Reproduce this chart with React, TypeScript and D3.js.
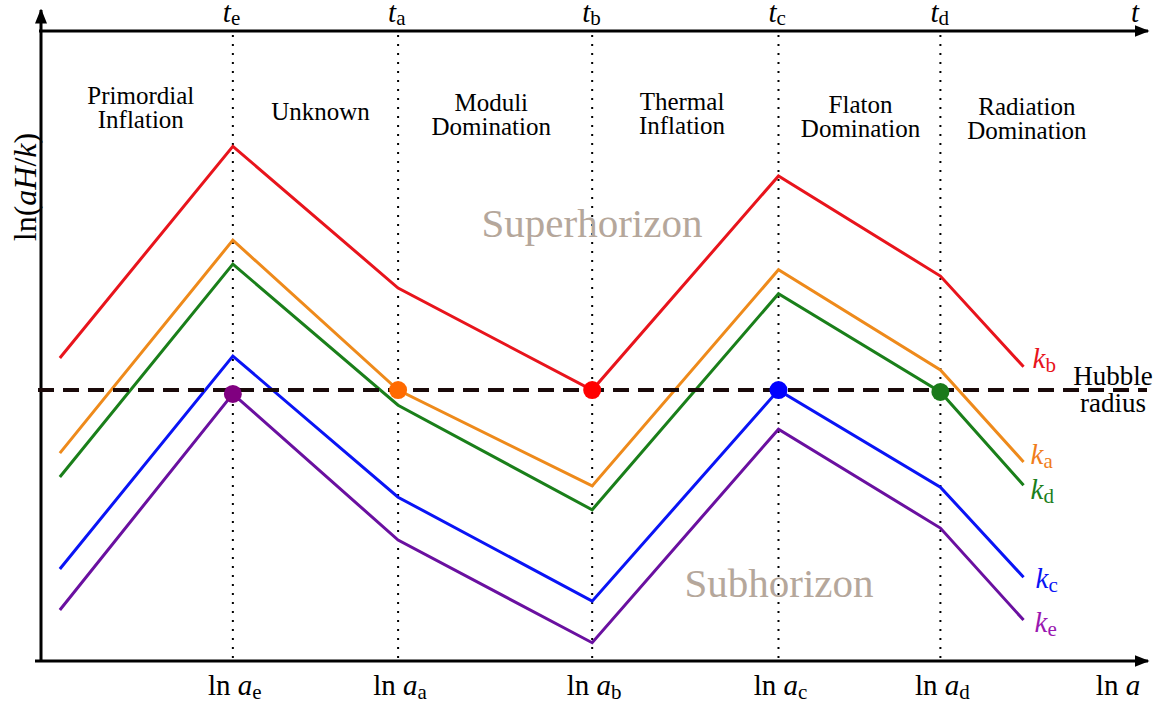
import React from 'react';
import * as d3 from 'd3';

// ln a positions: curve start, a_e, a_a, a_b, a_c, a_d, curve end
const lnA = [1.7, 17.3, 32.2, 49.7, 66.5, 81.1, 88.6];
const epochs = ['e', 'a', 'b', 'c', 'd'];
const epochLnA = [17.3, 32.2, 49.7, 66.5, 81.1];

// ln(aH/k) for each comoving scale
const kB = [48.1, 81.7, 59.2, 43.0, 77.0, 61.1, 46.7];
const kA = [33.0, 66.8, 43.0, 27.8, 62.1, 46.2, 31.6];
const kD = [29.2, 63.0, 40.6, 24.0, 58.3, 42.7, 27.9];
const kC = [14.6, 48.4, 26.0, 9.5, 43.0, 27.6, 13.3];
const kE = [8.1, 42.4, 19.2, 2.9, 36.8, 21.1, 6.5];
const hubble = 43.0;

const eras = [
  ['Primordial', 'Inflation'],
  ['Unknown'],
  ['Moduli', 'Domination'],
  ['Thermal', 'Inflation'],
  ['Flaton', 'Domination'],
  ['Radiation', 'Domination'],
];
const eraLnA = [9.0, 25.2, 40.6, 57.8, 73.9, 88.9];

const series = [
  { name: 'b', values: kB, color: '#e8141c', label: '#e8141c', dot: '#ff0000', cross: 3 },
  { name: 'a', values: kA, color: '#ee8a1b', label: '#f07d1b', dot: '#ff6a00', cross: 2 },
  { name: 'd', values: kD, color: '#1a7f1a', label: '#1a7f1a', dot: '#1a7a1a', cross: 5 },
  { name: 'c', values: kC, color: '#0a14f5', label: '#0a14f5', dot: '#0000ff', cross: 4 },
  { name: 'e', values: kE, color: '#6a10a0', label: '#9a18b0', dot: '#800080', cross: 1 },
];
// label nudges relative to each curve's end
const labelDx = [9, 7, 7, 12, 11];
const labelDy = [1, 2, 14, 11, 12];

const W = 1164;
const H = 707;
const serif = "'Liberation Serif', 'Times New Roman', 'DejaVu Serif', serif";

export default function App() {
  const x = d3.scaleLinear().domain([0, 100]).range([41, 1150]);
  const y = d3.scaleLinear().domain([0, 100]).range([661, 31]);
  const line = d3
    .line<number>()
    .x((_, i) => x(lnA[i]))
    .y((d) => y(d));

  const axisY0 = 661;
  const axisTop = 31;

  return (
    <svg
      width={W}
      height={H}
      style={{ position: 'absolute', left: 0, top: 0, background: '#fff', fontFamily: serif }}
    >
      <defs>
        <marker id="arr" viewBox="0 0 10 10" refX="9" refY="5" markerWidth="5" markerHeight="5" orient="auto">
          <path d="M0,1 L10,5 L0,9 Z" fill="#000" />
        </marker>
      </defs>

      {/* epoch dotted lines */}
      {epochLnA.map((v, i) => (
        <line
          key={'v' + i}
          x1={x(v)}
          x2={x(v)}
          y1={axisTop + 4}
          y2={axisY0}
          stroke="#000"
          strokeWidth={2}
          strokeDasharray="2,7"
        />
      ))}

      {/* axes */}
      <line x1={41} x2={41} y1={axisY0 + 1} y2={10} stroke="#000" strokeWidth={3} markerEnd="url(#arr)" />
      <line x1={39} x2={1148} y1={axisTop} y2={axisTop} stroke="#000" strokeWidth={3} markerEnd="url(#arr)" />
      <line x1={35} x2={1148} y1={axisY0} y2={axisY0} stroke="#000" strokeWidth={3} markerEnd="url(#arr)" />

      {/* top t labels */}
      {epochs.map((e, i) => (
        <text key={'t' + i} x={x(epochLnA[i]) - 10} y={22} fontSize={29}>
          <tspan fontStyle="italic">t</tspan>
          <tspan fontSize={21} dy={3}>{e}</tspan>
        </text>
      ))}
      <text x={1131} y={22} fontSize={29} fontStyle="italic">t</text>

      {/* bottom ln a labels */}
      {epochs.map((e, i) => (
        <text key={'a' + i} x={x(epochLnA[i]) + 2} y={695} fontSize={29} textAnchor="middle">
          <tspan>ln </tspan>
          <tspan fontStyle="italic">a</tspan>
          <tspan fontSize={21} dy={4}>{e}</tspan>
        </text>
      ))}
      <text x={1118} y={695} fontSize={29} textAnchor="middle">
        <tspan>ln </tspan>
        <tspan fontStyle="italic">a</tspan>
      </text>

      {/* y label */}
      <text transform="translate(36,187) rotate(-90)" fontSize={32} textAnchor="middle">
        <tspan>ln(</tspan>
        <tspan fontStyle="italic">aH</tspan>
        <tspan>/</tspan>
        <tspan fontStyle="italic">k</tspan>
        <tspan>)</tspan>
      </text>

      {/* era names */}
      {eras.map((lines, i) => {
        const base = [104, 120, 111, 110, 113, 115][i];
        return (
          <text key={'era' + i} x={x(eraLnA[i])} y={base} fontSize={25} textAnchor="middle">
            {lines.map((l, j) => (
              <tspan key={j} x={x(eraLnA[i])} dy={j === 0 ? 0 : 24}>
                {l}
              </tspan>
            ))}
          </text>
        );
      })}

      <text x={592} y={237} fontSize={41} fill="#b5a79b" textAnchor="middle">Superhorizon</text>
      <text x={779} y={597} fontSize={41} fill="#b5a79b" textAnchor="middle">Subhorizon</text>

      {/* curves */}
      {series.map((s) => (
        <path key={s.name} d={line(s.values) || ''} fill="none" stroke={s.color} strokeWidth={3} />
      ))}

      {/* Hubble radius */}
      <line
        x1={38}
        x2={1147}
        y1={y(hubble)}
        y2={y(hubble)}
        stroke="#1a0a0a"
        strokeWidth={4}
        strokeDasharray="16,9"
      />
      <text x={1113} y={385} fontSize={27} textAnchor="middle">Hubble</text>
      <text x={1113} y={412} fontSize={27} textAnchor="middle">radius</text>

      {/* horizon-crossing dots */}
      {series.map((s) => (
        <circle
          key={'dot' + s.name}
          cx={x(lnA[s.cross])}
          cy={y(s.values[s.cross])}
          r={9}
          fill={s.dot}
        />
      ))}

      {/* k labels */}
      {series.map((s, i) => (
        <text
          key={'k' + s.name}
          x={x(lnA[6]) + labelDx[i]}
          y={y(s.values[6]) + labelDy[i]}
          fontSize={29}
          fill={s.label}
        >
          <tspan fontStyle="italic">k</tspan>
          <tspan fontSize={21} dy={4}>{s.name}</tspan>
        </text>
      ))}
    </svg>
  );
}
